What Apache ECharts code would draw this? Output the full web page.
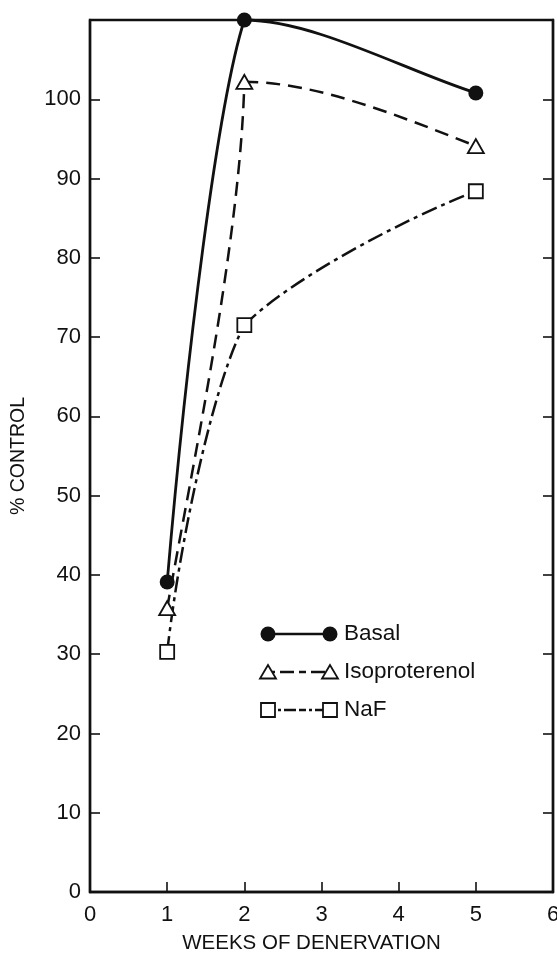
<!DOCTYPE html>
<html>
<head>
<meta charset="utf-8">
<script src="https://cdn.jsdelivr.net/npm/echarts@6/dist/echarts.min.js"></script>
<style>
html,body{margin:0;padding:0;background:#fff;}
#chart{width:557px;height:954px;}
</style>
</head>
<body>
<div id="chart"></div>
<script>
// Data
var weeks = [1, 2, 5];
var basal = [39.1, 110, 100.8];
var isoproterenol = [35.8, 102.2, 94.1];
var naf = [30.3, 71.5, 88.4];
var xTicks = [0, 1, 2, 3, 4, 5, 6];
var yTicks = [0, 10, 20, 30, 40, 50, 60, 70, 80, 90, 100];
var seriesNames = ['Basal', 'Isoproterenol', 'NaF'];

var FONT = '"Liberation Sans", Arial, Helvetica, sans-serif';
function pairs(xs, ys) { return xs.map(function (x, i) { return [x, ys[i]]; }); }
function segments(xs, ys) {
  var out = [];
  for (var i = 1; i < xs.length; i++) out.push([xs[i - 1], ys[i - 1], xs[i], ys[i]]);
  return out;
}

// Curve shape styling (hand-drawn look): control arms as fractions of each segment's chord
var curveShapes = {
  Basal:         [{o: [0.25, 0.40], i: [0.35, 0.15]}, {o: [0.30, 0.0], i: [0.30, 0.30]}],
  Isoproterenol: [{o: [0.30, 0.25], i: [0.05, 0.30]}, {o: [0.30, 0.0], i: [0.35, 0.50]}],
  NaF:           [{o: [0.20, 0.40], i: [0.35, 0.15]}, {o: [0.20, 0.35], i: [0.30, 0.20]}]
};

function curveSeries(name, ys, lineStyle) {
  return {
    name: name, type: 'custom', data: segments(weeks, ys), z: 2, clip: false,
    renderItem: function (params, api) {
      var a = api.coord([api.value(0), api.value(1)]);
      var b = api.coord([api.value(2), api.value(3)]);
      var dx = b[0] - a[0], dy = b[1] - a[1];
      var s = curveShapes[name][params.dataIndex];
      return {
        type: 'bezierCurve',
        shape: {
          x1: a[0], y1: a[1], x2: b[0], y2: b[1],
          cpx1: a[0] + s.o[0] * dx, cpy1: a[1] + s.o[1] * dy,
          cpx2: b[0] - s.i[0] * dx, cpy2: b[1] - s.i[1] * dy
        },
        style: {fill: null, stroke: '#111', lineWidth: lineStyle.width, lineDash: lineStyle.dash, lineCap: 'butt'}
      };
    }
  };
}

var chart = echarts.init(document.getElementById('chart'), null, {renderer: 'canvas'});

var axisLabelStyle = {color: '#111', fontFamily: FONT, fontSize: 22};

var option = {
  backgroundColor: '#fff',
  animation: false,
  grid: {left: 90, right: 4, top: 20, bottom: 62, outerBoundsMode: 'none', containLabel: false,
    show: true, borderColor: '#111', borderWidth: 2.4, backgroundColor: 'transparent'},
  xAxis: [{
    type: 'value', min: 0, max: 6, interval: 1,
    name: 'WEEKS OF DENERVATION', nameLocation: 'middle', nameGap: 41,
    nameTextStyle: {color: '#111', fontFamily: FONT, fontSize: 20.5, padding: [0, 20, 0, 0]},
    axisLine: {show: true, lineStyle: {color: '#111', width: 2.4}},
    axisTick: {show: true, inside: true, length: 10, lineStyle: {color: '#111', width: 1.6}},
    axisLabel: Object.assign({margin: 12, formatter: function (v) { return xTicks.indexOf(v) >= 0 ? String(v) : ''; }}, axisLabelStyle),
    splitLine: {show: false}
  }],
  yAxis: [{
    type: 'value', min: 0, max: 110, interval: 10,
    name: '% CONTROL', nameLocation: 'middle', nameGap: 61, nameRotate: 90,
    nameTextStyle: {color: '#111', fontFamily: FONT, fontSize: 19.5},
    axisLine: {show: true, lineStyle: {color: '#111', width: 2.4}},
    axisTick: {show: true, inside: true, length: 10, lineStyle: {color: '#111', width: 1.6}},
    axisLabel: Object.assign({margin: 9, showMaxLabel: false, formatter: function (v) { return yTicks.indexOf(v) >= 0 ? String(v) : ''; }}, axisLabelStyle),
    splitLine: {show: false}
  }, {
    type: 'value', min: 0, max: 110, interval: 10, position: 'right',
    axisLine: {show: true, lineStyle: {color: '#111', width: 2.4}},
    axisTick: {show: true, inside: true, length: 10, lineStyle: {color: '#111', width: 1.6}},
    axisLabel: {show: false},
    splitLine: {show: false}
  }],
  series: [
    curveSeries(seriesNames[0], basal, {width: 2.8, dash: null}),
    curveSeries(seriesNames[1], isoproterenol, {width: 2.5, dash: [14, 8]}),
    curveSeries(seriesNames[2], naf, {width: 2.5, dash: [16, 5, 4, 5]}),
    {
      name: seriesNames[0], type: 'scatter', data: pairs(weeks, basal), z: 3, clip: false,
      symbol: 'circle', symbolSize: 15,
      itemStyle: {color: '#111', borderWidth: 0, opacity: 1}
    }, {
      name: seriesNames[1], type: 'scatter', data: pairs(weeks, isoproterenol), z: 3, clip: false,
      symbol: 'triangle', symbolSize: [16, 14],
      itemStyle: {color: '#fff', borderColor: '#111', borderWidth: 1.8, opacity: 1}
    }, {
      name: seriesNames[2], type: 'scatter', data: pairs(weeks, naf), z: 3, clip: false,
      symbol: 'rect', symbolSize: 14,
      itemStyle: {color: '#fff', borderColor: '#111', borderWidth: 1.8, opacity: 1}
    }
  ],
  graphic: []
};

// Legend drawn as graphic items (symbol — line — symbol, label)
var legendRows = [
  {name: seriesNames[0], y: 634, dash: null, sym: 'circle'},
  {name: seriesNames[1], y: 672, dash: [7, 5, 14, 5], sym: 'triangle'},
  {name: seriesNames[2], y: 710, dash: [7, 3, 3, 3, 12, 3], sym: 'rect'}
];
var lx0 = 268, lx1 = 330, tx = 344;
legendRows.forEach(function (r) {
  var children = [];
  children.push({type: 'line', shape: {x1: lx0, y1: r.y, x2: lx1, y2: r.y},
    style: {stroke: '#111', lineWidth: 2.4, lineDash: r.dash}});
  [lx0, lx1].forEach(function (cx) {
    if (r.sym === 'circle') {
      children.push({type: 'circle', shape: {cx: cx, cy: r.y, r: 7.5}, style: {fill: '#111'}});
    } else if (r.sym === 'triangle') {
      children.push({type: 'polygon', shape: {points: [[cx, r.y - 7], [cx - 8, r.y + 6.5], [cx + 8, r.y + 6.5]]},
        style: {fill: '#fff', stroke: '#111', lineWidth: 1.8}});
    } else {
      children.push({type: 'rect', shape: {x: cx - 7, y: r.y - 7, width: 14, height: 14},
        style: {fill: '#fff', stroke: '#111', lineWidth: 1.8}});
    }
  });
  children.push({type: 'text', x: tx, y: r.y, style: {text: r.name, fill: '#111', font: '22.5px ' + FONT, textVerticalAlign: 'middle', verticalAlign: 'middle'}});
  option.graphic.push({type: 'group', children: children});
});

chart.setOption(option);
</script>
</body>
</html>
